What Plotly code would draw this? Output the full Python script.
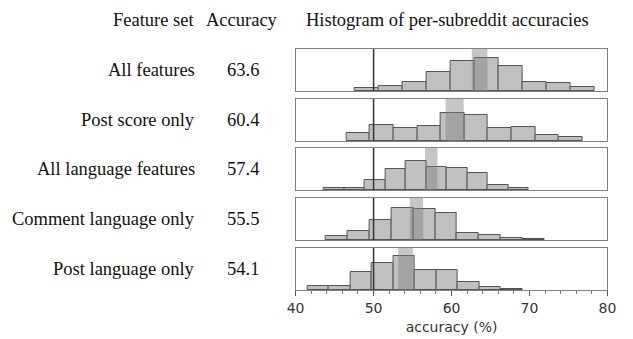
import plotly.graph_objects as go

W, H = 633, 339

feature_sets = ["All features", "Post score only", "All language features",
                "Comment language only", "Post language only"]
accuracies = [63.6, 60.4, 57.4, 55.5, 54.1]
ci_half = [1.0, 1.15, 0.8, 0.85, 0.95]

# histogram bin starts / widths (accuracy %) and bar heights per feature set
bin_start = [47.6, 46.5, 43.6, 43.9, 41.5]
bin_width = [3.07, 3.03, 2.63, 2.80, 2.76]
hist_all = [2.0, 2.8, 5.6, 11.2, 18.0, 19.6, 14.6, 5.6, 5.0, 2.2]
hist_score = [5.0, 9.8, 7.8, 9.2, 16.8, 15.2, 7.8, 8.6, 3.6, 2.2]
hist_lang = [1.2, 1.2, 6.2, 12.4, 17.0, 13.4, 13.0, 10.2, 3.2, 1.2]
hist_comment = [2.6, 5.2, 12.2, 19.0, 18.2, 16.2, 4.4, 3.2, 1.2, 0.4]
hist_post = [2.4, 2.6, 11.0, 15.8, 20.0, 11.8, 11.8, 4.8, 2.0, 0.8]
hists = [hist_all, hist_score, hist_lang, hist_comment, hist_post]

baseline = 50
x_range = [40, 80]
y_max = 25

# panel pixel extents (top, bottom)
panel_px = [(49, 91), (99, 141), (148, 190), (198, 240), (248, 290)]
x_px = (295, 616)

SERIF = "Liberation Serif"
SANS = "DejaVu Sans"
FS = 18.5

fig = go.Figure()
layout = dict(width=W, height=H, autosize=False,
              margin=dict(l=0, r=0, t=0, b=0),
              paper_bgcolor="white", plot_bgcolor="white",
              showlegend=False, shapes=[], annotations=[])

border = "#808080"
for i in range(5):
    n = i + 1
    xa = "x" if n == 1 else f"x{n}"
    ya = "y" if n == 1 else f"y{n}"
    centers = [bin_start[i] + bin_width[i] * (k + 0.5) for k in range(len(hists[i]))]
    fig.add_trace(go.Bar(x=centers, y=hists[i], width=bin_width[i],
                         marker=dict(color="#c0c0c0",
                                     line=dict(color="#555555", width=1)),
                         xaxis=xa, yaxis=ya, hoverinfo="skip"))
    top, bot = panel_px[i]
    last = (n == 5)
    layout[f"xaxis{'' if n == 1 else n}"] = dict(
        domain=[x_px[0] / W, x_px[1] / W], range=x_range, anchor=ya,
        showline=True, mirror=True, linecolor=border, linewidth=1,
        showgrid=False, zeroline=False,
        ticks="outside" if last else "", ticklen=5, tickcolor="#555",
        dtick=10, tick0=40, showticklabels=last,
        tickfont=dict(family=SANS, size=14, color="#333"),
        minor=dict(dtick=2, ticks="outside", ticklen=3, tickcolor="#777") if last else dict(ticks=""),
        title=dict(text="accuracy (%)", font=dict(family=SANS, size=14, color="#333"), standoff=7) if last else None,
        fixedrange=True)
    layout[f"yaxis{'' if n == 1 else n}"] = dict(
        domain=[(H - bot) / H, (H - top) / H], range=[0, y_max], anchor=xa,
        showline=True, mirror=True, linecolor=border, linewidth=1,
        showgrid=False, zeroline=False, showticklabels=False, ticks="",
        fixedrange=True)
    # confidence band
    layout["shapes"].append(dict(type="rect", xref=xa, yref=f"{ya} domain",
                                 x0=accuracies[i] - ci_half[i], x1=accuracies[i] + ci_half[i],
                                 y0=0, y1=1, fillcolor="rgba(128,128,128,0.45)",
                                 line=dict(width=0), layer="above"))
    # baseline
    layout["shapes"].append(dict(type="line", xref=xa, yref=f"{ya} domain",
                                 x0=baseline, x1=baseline, y0=0, y1=1,
                                 line=dict(color="#333333", width=1.5), layer="above"))
    yc = 1 - ((top + bot) / 2) / H
    layout["annotations"].append(dict(text=feature_sets[i], xref="paper", yref="paper",
                                      x=193 / W, y=yc, xanchor="right", yanchor="middle",
                                      showarrow=False,
                                      font=dict(family=SERIF, size=FS, color="#111")))
    layout["annotations"].append(dict(text=f"{accuracies[i]:.1f}", xref="paper", yref="paper",
                                      x=241 / W, y=yc, xanchor="center", yanchor="middle",
                                      showarrow=False,
                                      font=dict(family=SERIF, size=FS, color="#111")))

headers = [("Feature set", 193, "right"), ("Accuracy", 240, "center"),
           ("Histogram of per-subreddit accuracies", 451, "center")]
for txt, px, anc in headers:
    layout["annotations"].append(dict(text=txt, xref="paper", yref="paper",
                                      x=px / W, y=1 - 20 / H, xanchor=anc, yanchor="middle",
                                      showarrow=False,
                                      font=dict(family=SERIF, size=FS, color="#111")))

fig.update_layout(**layout)
fig.update_layout(bargap=0)
fig.write_html("out.html", config={"displayModeBar": False},
               post_script="document.body.style.margin='0';document.body.style.overflow='hidden';")
